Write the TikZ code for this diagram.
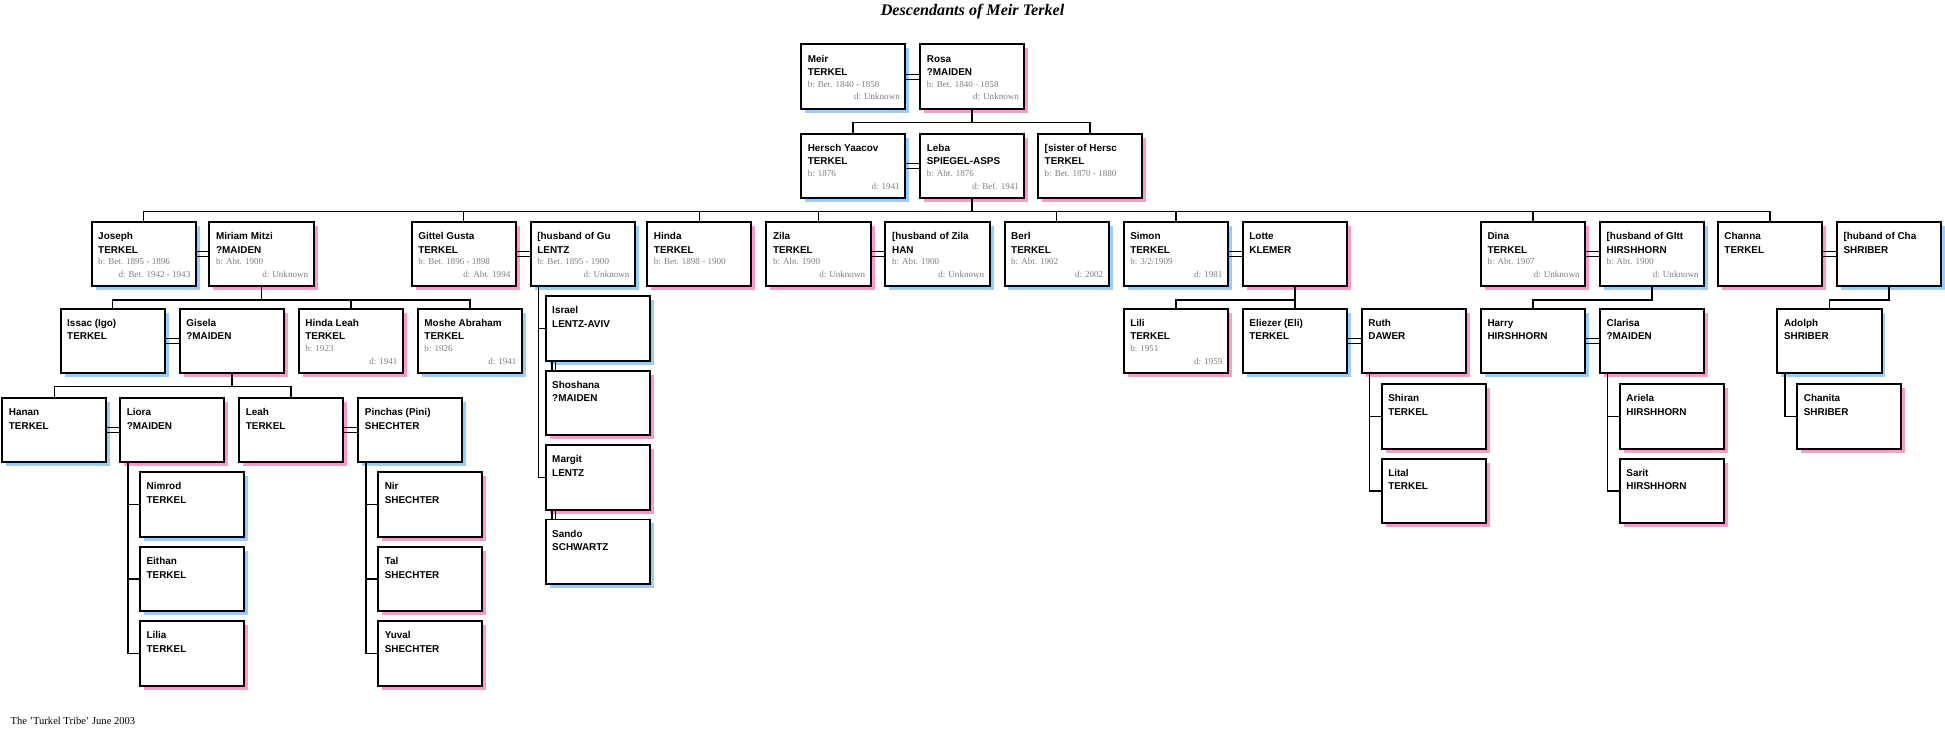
\documentclass[tikz,border=0pt]{standalone}
\usepackage{fontspec}
\setmainfont{Liberation Serif}
\setsansfont{Liberation Sans}
\usetikzlibrary{calc}

\definecolor{boy}{RGB}{153,204,255}
\definecolor{girl}{RGB}{255,153,204}

\tikzset{
	card/.style={draw, line width=1.6pt, fill=white, minimum width=84pt, minimum height=52pt, inner sep=0pt, anchor=north west},
	who/.style={font=\sffamily\bfseries\fontsize{8}{11}\selectfont, inner sep=0pt, anchor=base west},
	when/.style={font=\fontsize{7.3}{9}\selectfont, text=gray, inner sep=0pt},
	link/.style={line width=1.3pt},
}

% #1 name, #2 x, #3 y, #4 shadow, #5 first, #6 last, #7 born, #8 died
\newcommand{\kin}[8]{
	\fill[#4] (#2+4,#3+4) rectangle ++(84,52);
	\node[card] (#1) at (#2,#3) {};
	\node[who] (#1-a) at ($(#1.north west)+(6,15)$) {#5};
	\node[who] (#1-b) at ($(#1.north west)+(6,26)$) {#6};
	\node[when, anchor=base west] (#1-c) at ($(#1.north west)+(6,35.5)$) {#7};
	\node[when, anchor=base east] (#1-d) at ($(#1.north east)+(-5,45.5)$) {#8};
}
% marriage marks
\newcommand{\wed}[2]{
	\draw[line width=1pt] ($(#1.east)+(0,-2)$) -- ($(#2.west)+(0,-2)$);
	\draw[line width=1pt] ($(#1.east)+(0,2)$) -- ($(#2.west)+(0,2)$);
}
\newcommand{\wedv}[2]{
	\draw[line width=1pt] ($(#1.south west)+(6,0)$) -- ($(#2.north west)+(6,0)$);
	\draw[line width=1pt] ($(#1.south west)+(9,0)$) -- ($(#2.north west)+(9,0)$);
}

\begin{document}
\begin{tikzpicture}[x=1pt, y=-1pt]
	\useasboundingbox (0,0) rectangle (1568,592);
	
	\node[font=\bfseries\itshape\fontsize{13}{15}\selectfont] (title) at (784,9) {Descendants of Meir Terkel};
	\node[font=\fontsize{8.5}{10}\selectfont, anchor=west] (foot) at (5,581) {The 'Turkel Tribe' June 2003};
	
	% generation 1 and 2
	\kin{meir}{645}{35}{boy}{Meir}{TERKEL}{b: Bet. 1840 - 1858}{d: Unknown}
	\kin{rosa}{741}{35}{girl}{Rosa}{?MAIDEN}{b: Bet. 1840 - 1858}{d: Unknown}
	\kin{hersch}{645}{107}{boy}{Hersch Yaacov}{TERKEL}{b: 1876}{d: 1941}
	\kin{leba}{741}{107}{girl}{Leba}{SPIEGEL-ASPS}{b: Abt. 1876}{d: Bef. 1941}
	\kin{sister}{836}{107}{girl}{[sister of Hersc}{TERKEL}{b: Bet. 1870 - 1880}{}
	
	% generation 3
	\kin{joseph}{73}{178}{boy}{Joseph}{TERKEL}{b: Bet. 1895 - 1896}{d: Bet. 1942 - 1943}
	\kin{miriam}{168}{178}{girl}{Miriam Mitzi}{?MAIDEN}{b: Abt. 1900}{d: Unknown}
	\kin{gittel}{331}{178}{girl}{Gittel Gusta}{TERKEL}{b: Bet. 1896 - 1898}{d: Abt. 1994}
	\kin{husgu}{427}{178}{boy}{[husband of Gu}{LENTZ}{b: Bet. 1895 - 1900}{d: Unknown}
	\kin{hinda}{521}{178}{girl}{Hinda}{TERKEL}{b: Bet. 1898 - 1900}{}
	\kin{zila}{617}{178}{girl}{Zila}{TERKEL}{b: Abt. 1900}{d: Unknown}
	\kin{huszila}{713}{178}{boy}{[husband of Zila}{HAN}{b: Abt. 1900}{d: Unknown}
	\kin{berl}{809}{178}{boy}{Berl}{TERKEL}{b: Abt. 1902}{d: 2002}
	\kin{simon}{905}{178}{boy}{Simon}{TERKEL}{b: 3/2/1909}{d: 1981}
	\kin{lotte}{1001}{178}{girl}{Lotte}{KLEMER}{}{}
	\kin{dina}{1193}{178}{girl}{Dina}{TERKEL}{b: Abt. 1907}{d: Unknown}
	\kin{husgltt}{1289}{178}{boy}{[husband of Gltt}{HIRSHHORN}{b: Abt. 1900}{d: Unknown}
	\kin{channa}{1384}{178}{girl}{Channa}{TERKEL}{}{}
	\kin{huscha}{1480}{178}{boy}{[huband of Cha}{SHRIBER}{}{}
	
	% generation 4
	\kin{issac}{48}{248}{boy}{Issac (Igo)}{TERKEL}{}{}
	\kin{gisela}{144}{248}{girl}{Gisela}{?MAIDEN}{}{}
	\kin{hindaleah}{240}{248}{girl}{Hinda Leah}{TERKEL}{b: 1923}{d: 1941}
	\kin{moshe}{336}{248}{boy}{Moshe Abraham}{TERKEL}{b: 1926}{d: 1941}
	\kin{israel}{439}{238}{boy}{Israel}{LENTZ-AVIV}{}{}
	\kin{shoshana}{439}{298}{girl}{Shoshana}{?MAIDEN}{}{}
	\kin{margit}{439}{358}{girl}{Margit}{LENTZ}{}{}
	\kin{sando}{439}{418}{boy}{Sando}{SCHWARTZ}{}{}
	\kin{lili}{905}{248}{girl}{Lili}{TERKEL}{b: 1951}{d: 1959}
	\kin{eliezer}{1001}{248}{boy}{Eliezer (Eli)}{TERKEL}{}{}
	\kin{ruth}{1097}{248}{girl}{Ruth}{DAWER}{}{}
	\kin{harry}{1193}{248}{boy}{Harry}{HIRSHHORN}{}{}
	\kin{clarisa}{1289}{248}{girl}{Clarisa}{?MAIDEN}{}{}
	\kin{adolph}{1432}{248}{boy}{Adolph}{SHRIBER}{}{}
	
	% generation 5
	\kin{hanan}{1}{320}{boy}{Hanan}{TERKEL}{}{}
	\kin{liora}{96}{320}{girl}{Liora}{?MAIDEN}{}{}
	\kin{leah}{192}{320}{girl}{Leah}{TERKEL}{}{}
	\kin{pinchas}{288}{320}{boy}{Pinchas (Pini)}{SHECHTER}{}{}
	\kin{shiran}{1113}{309}{girl}{Shiran}{TERKEL}{}{}
	\kin{lital}{1113}{369}{girl}{Lital}{TERKEL}{}{}
	\kin{ariela}{1305}{309}{girl}{Ariela}{HIRSHHORN}{}{}
	\kin{sarit}{1305}{369}{girl}{Sarit}{HIRSHHORN}{}{}
	\kin{chanita}{1448}{309}{girl}{Chanita}{SHRIBER}{}{}
	
	% generation 6
	\kin{nimrod}{112}{380}{boy}{Nimrod}{TERKEL}{}{}
	\kin{eithan}{112}{440}{boy}{Eithan}{TERKEL}{}{}
	\kin{lilia}{112}{500}{girl}{Lilia}{TERKEL}{}{}
	\kin{nir}{304}{380}{girl}{Nir}{SHECHTER}{}{}
	\kin{tal}{304}{440}{girl}{Tal}{SHECHTER}{}{}
	\kin{yuval}{304}{500}{girl}{Yuval}{SHECHTER}{}{}
	
	% couples
	\wed{meir}{rosa}
	\wed{hersch}{leba}
	\wed{joseph}{miriam}
	\wed{gittel}{husgu}
	\wed{zila}{huszila}
	\wed{simon}{lotte}
	\wed{dina}{husgltt}
	\wed{channa}{huscha}
	\wed{issac}{gisela}
	\wed{eliezer}{ruth}
	\wed{harry}{clarisa}
	\wed{hanan}{liora}
	\wed{leah}{pinchas}
	\wedv{israel}{shoshana}
	\wedv{margit}{sando}
	
	% children, fork style
	\foreach \c in {hersch,sister}
		\draw[link] (rosa.south) -- ++(0,10) -| (\c.north);
	\foreach \c in {joseph,gittel,hinda,zila,berl,simon,dina,channa}
		\draw[link] (leba.south) -- ++(0,10) -| (\c.north);
	\foreach \c in {issac,hindaleah,moshe}
		\draw[link] (miriam.south) -- ++(0,10) -| (\c.north);
	\foreach \c in {hanan,leah}
		\draw[link] (gisela.south) -- ++(0,10) -| (\c.north);
	\foreach \c in {lili,eliezer}
		\draw[link] (lotte.south) -- ++(0,10) -| (\c.north);
	\draw[link] (husgltt.south) -- ++(0,10) -| (harry.north);
	\draw[link] (huscha.south) -- ++(0,10) -| (adolph.north);
	
	% children, list style
	\foreach \p/\c in {husgu/israel,husgu/margit,liora/nimrod,liora/eithan,liora/lilia,pinchas/nir,pinchas/tal,pinchas/yuval,ruth/shiran,ruth/lital,clarisa/ariela,clarisa/sarit,adolph/chanita}
		\draw[link] ($(\p.south west)+(7,0)$) |- (\c.west);
\end{tikzpicture}
\end{document}
